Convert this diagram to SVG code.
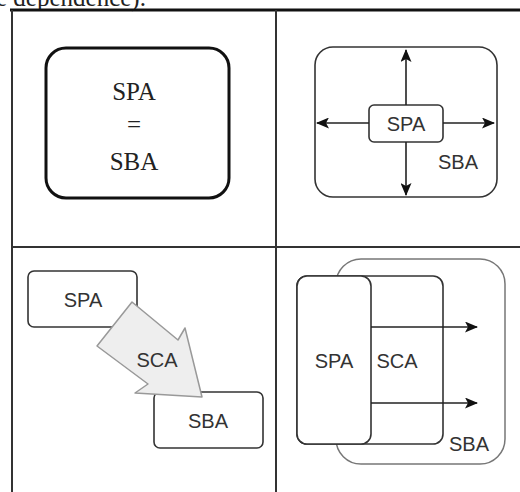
<svg xmlns="http://www.w3.org/2000/svg" width="520" height="492" viewBox="0 0 520 492">
  <style>
    .serif { font-family: "Liberation Serif", "Times New Roman", serif; fill: #222; }
    .sans { font-family: "Liberation Sans", Arial, sans-serif; font-size: 20px; fill: #333; text-anchor: middle; }
    .grid { stroke: #333; stroke-width: 2; fill: none; }
    .box { fill: #fff; stroke: #333; stroke-width: 1.6; }
    .edge { stroke: #222; stroke-width: 1.6; fill: none; marker-end: url(#head); }
  </style>
  <defs>
    <marker id="head" viewBox="0 0 13 11" refX="12" refY="5.5" markerWidth="13" markerHeight="11" markerUnits="userSpaceOnUse" orient="auto">
      <path d="M0,0 L13,5.5 L0,11 L3,5.5 Z" fill="#111"/>
    </marker>
  </defs>

  <!-- running text above the table -->
  <text class="serif" x="-4" y="6" font-size="25">e dependence).</text>

  <!-- table grid -->
  <g id="grid">
    <line x1="10" y1="10" x2="520" y2="10" stroke="#111" stroke-width="3"/>
    <line class="grid" x1="12" y1="10" x2="12" y2="492"/>
    <line class="grid" x1="276" y1="10" x2="276" y2="492"/>
    <line class="grid" x1="12" y1="247" x2="520" y2="247"/>
  </g>

  <!-- quadrant 1: SPA = SBA -->
  <g id="spa-eq-sba">
    <rect x="46" y="48" width="183" height="150" rx="20" fill="#fff" stroke="#111" stroke-width="3"/>
    <text class="serif" x="134" y="100" font-size="25" text-anchor="middle">SPA</text>
    <text class="serif" x="134" y="133" font-size="25" text-anchor="middle">=</text>
    <text class="serif" x="134" y="170" font-size="25" text-anchor="middle">SBA</text>
  </g>

  <!-- quadrant 2: SPA inside SBA -->
  <g id="sba-outer">
    <rect class="box" x="315" y="47" width="182" height="150" rx="18"/>
    <text class="sans" x="458" y="169">SBA</text>
  </g>
  <g id="spa-center">
    <rect class="box" x="369" y="105" width="74" height="37" rx="5"/>
    <text class="sans" x="406" y="131">SPA</text>
  </g>

  <!-- quadrant 3: SPA -> SCA -> SBA -->
  <g id="spa-left">
    <rect class="box" x="28" y="271" width="109" height="56" rx="6"/>
    <text class="sans" x="83" y="307">SPA</text>
  </g>
  <g id="sba-left">
    <rect class="box" x="154" y="392" width="109" height="56" rx="6"/>
    <text class="sans" x="208" y="428">SBA</text>
  </g>
  <g id="sca-arrow">
    <polygon points="132,302 178,340 185,328 202,397 135,393 148,384 97,346" fill="#eee" stroke="#999" stroke-width="1.5" stroke-linejoin="round"/>
    <text class="sans" x="157" y="367">SCA</text>
  </g>

  <!-- quadrant 4: SPA / SCA within SBA -->
  <g id="sba-right">
    <rect x="336" y="259" width="169" height="205" rx="25" fill="#fff" stroke="#777" stroke-width="1.5"/>
    <text class="sans" x="469" y="451">SBA</text>
  </g>
  <g id="sca-right">
    <rect class="box" x="297" y="276" width="146" height="168" rx="10"/>
    <text class="sans" x="397" y="368">SCA</text>
  </g>
  <g id="spa-right">
    <rect class="box" x="297" y="276" width="74" height="168" rx="10"/>
    <text class="sans" x="334" y="368">SPA</text>
  </g>

  <!-- connectors -->
  <g id="connectors">
    <line class="edge" x1="406" y1="105" x2="406" y2="50"/>
    <line class="edge" x1="406" y1="142" x2="406" y2="195"/>
    <line class="edge" x1="369" y1="123" x2="317" y2="123"/>
    <line class="edge" x1="443" y1="123" x2="494" y2="123"/>
    <line class="edge" x1="371" y1="327" x2="477" y2="327"/>
    <line class="edge" x1="371" y1="403" x2="477" y2="403"/>
  </g>
</svg>
